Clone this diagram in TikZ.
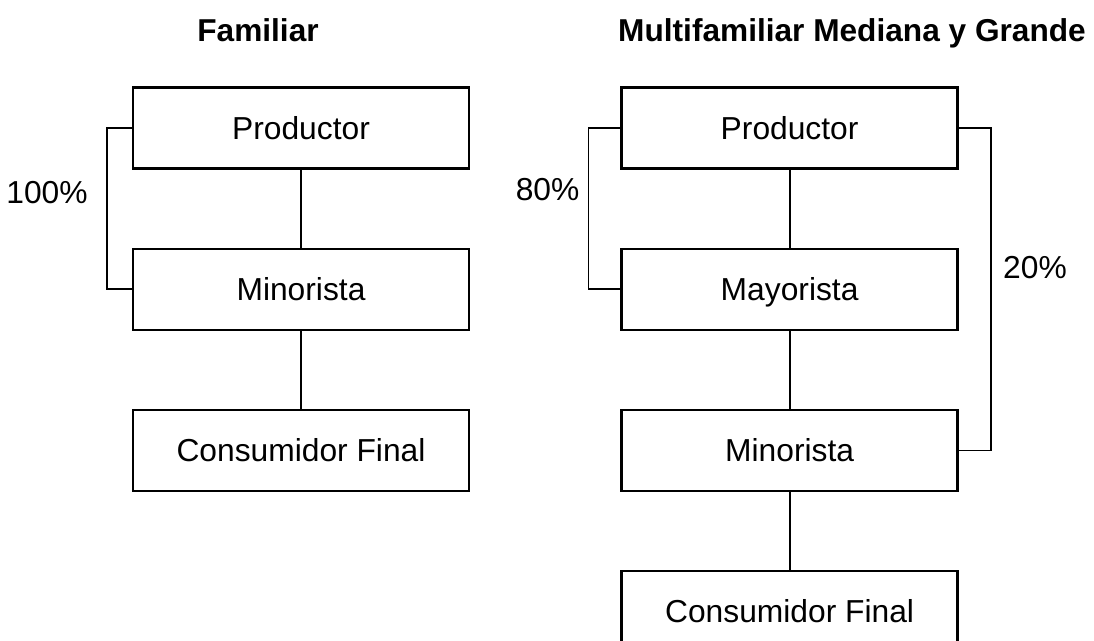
\documentclass[tikz,border=0pt]{standalone}
\usepackage{fontspec}
\setmainfont{Liberation Sans}
\usetikzlibrary{positioning}
\begin{document}
\begin{tikzpicture}[node distance=1.95cm,
  every node/.style={font=\fontsize{22.6pt}{26pt}\selectfont},
  caja/.style={draw, line width=1.6pt, minimum width=8.4cm, minimum height=2.025cm, inner sep=0pt, text height=18pt, text depth=2.2pt},
  titulo/.style={font=\fontsize{22.5pt}{26pt}\selectfont\bfseries, anchor=base},
  tramo/.style={line width=1.4pt},
  llave/.style={line width=1.1pt}]
\useasboundingbox (0,0) rectangle (27.35,-16.025);
\node[titulo] (tfam) at (6.45,-1.05) {Familiar};
\node[titulo] (tmul) at (21.3,-1.05) {Multifamiliar Mediana y Grande};
\node[caja] (prodA) at (7.525,-3.2) {Productor};
\node[caja, below=of prodA] (minA) {Minorista};
\node[caja, below=of minA] (consA) {Consumidor Final};
\node[caja] (prodB) at (19.74,-3.2) {Productor};
\node[caja, below=of prodB] (mayB) {Mayorista};
\node[caja, below=of mayB] (minB) {Minorista};
\node[caja, below=of minB] (consB) {Consumidor Final};
\draw[tramo] (prodA) -- (minA);
\draw[tramo] (minA) -- (consA);
\draw[tramo] (prodB) -- (mayB);
\draw[tramo] (mayB) -- (minB);
\draw[tramo] (minB) -- (consB);
\draw[llave] (prodA.west) -- ++(-0.625,0) |- (minA.west);
\draw[llave] (prodB.west) -- ++(-0.8,0) |- (mayB.west);
\draw[llave] (prodB.east) -- ++(0.8,0) |- (minB.east);
\node (pcien) at (1.175,-4.825) {100\%};
\node (pochenta) at (13.69,-4.75) {80\%};
\node (pveinte) at (25.875,-6.7) {20\%};
\end{tikzpicture}
\end{document}
